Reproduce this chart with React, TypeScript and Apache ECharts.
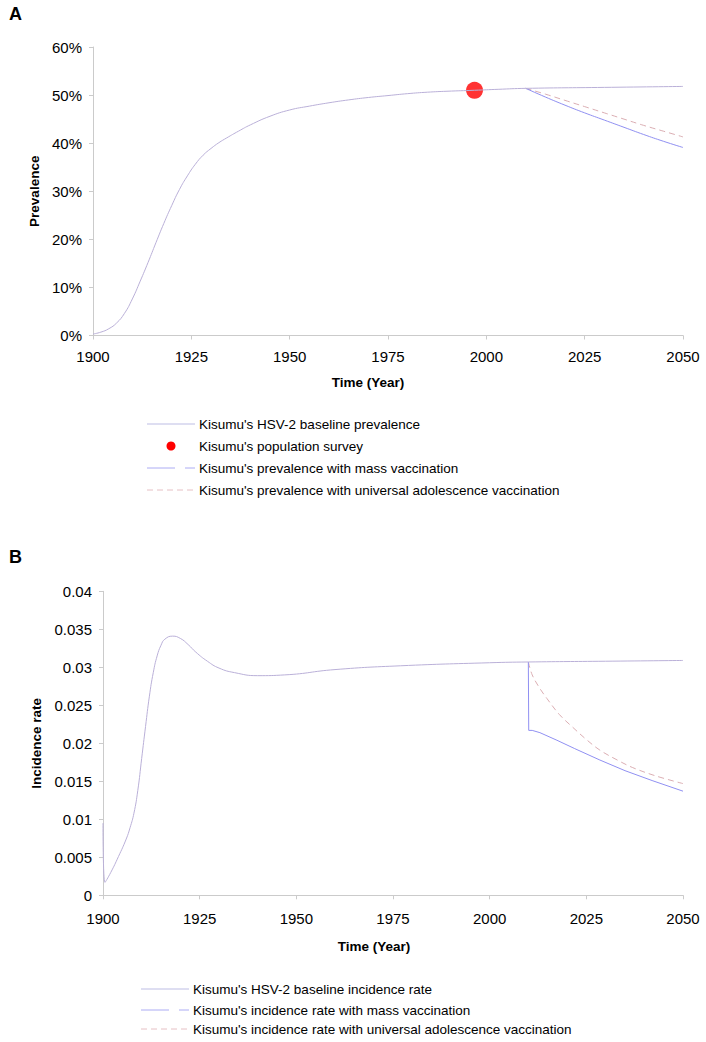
import React, { useEffect, useRef } from "react";
import * as echarts from "echarts";

// Panel A: prevalence (%)
const prevBaseYears = [1900, 1902, 1904, 1906, 1908, 1910, 1912, 1914, 1916, 1918, 1920, 1922, 1924, 1926, 1928, 1930, 1932, 1934, 1937, 1940, 1945, 1950, 1955, 1960, 1965, 1970, 1975, 1980, 1985, 1990, 1997, 2003, 2010, 2030, 2050];
const prevBaseVals = [0.3, 0.7, 1.4, 2.6, 4.6, 7.6, 11.3, 15.2, 19.3, 23.3, 27.0, 30.4, 33.2, 35.6, 37.5, 38.9, 40.1, 41.1, 42.5, 43.8, 45.6, 46.9, 47.7, 48.4, 49.0, 49.5, 49.9, 50.3, 50.6, 50.8, 51.0, 51.2, 51.4, 51.6, 51.8];
const surveyYears = [1997];
const surveyVals = [51.0];
const prevVacYears = [2010, 2015, 2020, 2025, 2030, 2035, 2040, 2045, 2050];
const prevMassVals = [51.4, 49.6, 47.9, 46.3, 44.8, 43.3, 41.8, 40.4, 39.1];
const prevAdolVals = [51.4, 50.2, 48.9, 47.6, 46.3, 45.0, 43.7, 42.5, 41.3];

// Panel B: incidence rate
const incBaseYears = [1900, 1900.5, 1902, 1904, 1906, 1907, 1908, 1909, 1910, 1911, 1912, 1913, 1914, 1915, 1916, 1918, 1920, 1922, 1924, 1927, 1930, 1934, 1940, 1947, 1960, 1977, 2000, 2010, 2030, 2050];
const incBaseVals = [0.0095, 0.0017, 0.003, 0.0051, 0.0074, 0.0089, 0.0108, 0.0138, 0.018, 0.0222, 0.0262, 0.0293, 0.0315, 0.0329, 0.0337, 0.0341, 0.0338, 0.033, 0.032, 0.0308, 0.0299, 0.0293, 0.0289, 0.029, 0.0297, 0.0302, 0.0306, 0.0307, 0.0308, 0.0309];
const incMassYears = [2010, 2010.1, 2011, 2013, 2017.4, 2022, 2028.5, 2035, 2042, 2050];
const incMassVals = [0.0307, 0.0217, 0.0217, 0.0214, 0.0204, 0.0193, 0.0178, 0.0164, 0.0151, 0.0137];
const incAdolYears = [2010, 2011, 2013, 2014.8, 2018, 2021.5, 2025, 2028.5, 2033, 2037, 2043, 2050];
const incAdolVals = [0.0307, 0.029, 0.0272, 0.0259, 0.0238, 0.0221, 0.0205, 0.0191, 0.0178, 0.0168, 0.0157, 0.0147];

const legendA = [
  "Kisumu's HSV-2 baseline prevalence",
  "Kisumu's population survey",
  "Kisumu's prevalence with mass vaccination",
  "Kisumu's prevalence with universal adolescence vaccination",
];
const legendB = [
  "Kisumu's HSV-2 baseline incidence rate",
  "Kisumu's incidence rate with mass vaccination",
  "Kisumu's incidence rate with universal adolescence vaccination",
];

const zip = (xs: number[], ys: number[]) => xs.map((x, i) => [x, ys[i]]);

const FONT = "Liberation Sans, Arial, sans-serif";
const BASE_C = "#bab0d8";
const MASS_C = "#9090f2";
const ADOL_C = "#dbaeb3";
const AXIS_C = "#cbcbcb";

export default function App() {
  const ref = useRef<HTMLDivElement>(null);
  useEffect(() => {
    const chart = echarts.init(ref.current!, null, { renderer: "svg" });
    const xAxisCommon = {
      type: "value",
      min: 1900,
      max: 2050,
      interval: 25,
      axisLine: { lineStyle: { color: AXIS_C } },
      axisTick: { lineStyle: { color: AXIS_C }, length: 4 },
      splitLine: { show: false },
      name: "Time (Year)",
      nameLocation: "middle",
    };
    const yAxisCommon = {
      type: "value",
      axisLine: { show: true, lineStyle: { color: AXIS_C } },
      axisTick: { show: true, lineStyle: { color: AXIS_C }, length: 4 },
      splitLine: { show: false },
      nameLocation: "middle",
      nameTextStyle: { fontWeight: "bold", fontSize: 13.5, fontFamily: FONT, color: "#000" },
    };
    const lineBase = (extra: any) => ({
      type: "line",
      showSymbol: false,
      symbol: "none",
      smooth: 0.5,
      silent: true,
      ...extra,
    });
    const yearFmt = (v: number) => String(v);

    const legendGraphics: any[] = [];
    const legRowsA = [424, 446, 468, 490];
    legendA.forEach((t, i) => {
      const y = legRowsA[i];
      if (i === 0) legendGraphics.push({ type: "line", shape: { x1: 147, y1: y, x2: 195, y2: y }, style: { stroke: "#bdbde4", lineWidth: 1 } });
      if (i === 1) legendGraphics.push({ type: "circle", shape: { cx: 171, cy: y, r: 4.5 }, style: { fill: "#ff0000" } });
      if (i === 2) legendGraphics.push({ type: "line", shape: { x1: 147, y1: y, x2: 195, y2: y }, style: { stroke: "#acacf4", lineWidth: 1, lineDash: [28, 10] } });
      if (i === 3) legendGraphics.push({ type: "line", shape: { x1: 147, y1: y, x2: 195, y2: y }, style: { stroke: "#e6c0c4", lineWidth: 1, lineDash: [6, 4] } });
      legendGraphics.push({ type: "text", x: 199, y, style: { text: t, fontSize: 13.5, fontFamily: FONT, fill: "#000", verticalAlign: "middle" } });
    });
    const legRowsB = [989, 1010, 1029];
    legendB.forEach((t, i) => {
      const y = legRowsB[i];
      if (i === 0) legendGraphics.push({ type: "line", shape: { x1: 141, y1: y, x2: 189, y2: y }, style: { stroke: "#bdbde4", lineWidth: 1 } });
      if (i === 1) legendGraphics.push({ type: "line", shape: { x1: 141, y1: y, x2: 189, y2: y }, style: { stroke: "#acacf4", lineWidth: 1, lineDash: [28, 10] } });
      if (i === 2) legendGraphics.push({ type: "line", shape: { x1: 141, y1: y, x2: 189, y2: y }, style: { stroke: "#e6c0c4", lineWidth: 1, lineDash: [6, 4] } });
      legendGraphics.push({ type: "text", x: 193, y, style: { text: t, fontSize: 13.5, fontFamily: FONT, fill: "#000", verticalAlign: "middle" } });
    });

    chart.setOption({
      animation: false,
      backgroundColor: "#fff",
      textStyle: { fontFamily: FONT },
      grid: [
        { left: 93, top: 47, width: 590, height: 288.5 },
        { left: 103, top: 591.3, width: 580, height: 304 },
      ],
      xAxis: [
        {
          ...xAxisCommon,
          gridIndex: 0,
          nameGap: 40,
          axisLabel: { color: "#000", fontSize: 15, fontFamily: FONT, margin: 13, formatter: yearFmt },
          nameTextStyle: { fontWeight: "bold", fontSize: 13.5, fontFamily: FONT, color: "#000", padding: [0, 40, 0, 0] },
        },
        {
          ...xAxisCommon,
          gridIndex: 1,
          nameGap: 44,
          axisLabel: { color: "#000", fontSize: 15, fontFamily: FONT, margin: 16, formatter: yearFmt },
          nameTextStyle: { fontWeight: "bold", fontSize: 13.5, fontFamily: FONT, color: "#000", padding: [0, 38, 0, 0] },
        },
      ],
      yAxis: [
        {
          ...yAxisCommon,
          gridIndex: 0,
          min: 0,
          max: 60,
          interval: 10,
          name: "Prevalence",
          nameGap: 52,
          axisLabel: { color: "#000", fontSize: 15, fontFamily: FONT, margin: 11, formatter: "{value}%" },
        },
        {
          ...yAxisCommon,
          gridIndex: 1,
          min: 0,
          max: 0.04,
          interval: 0.005,
          name: "Incidence rate",
          nameGap: 58,
          axisLabel: { color: "#000", fontSize: 15, fontFamily: FONT, margin: 11 },
        },
      ],
      graphic: [
        { type: "text", x: 9, y: 5, style: { text: "A", fontSize: 18, fontWeight: "bold", fontFamily: FONT, fill: "#000" } },
        { type: "text", x: 9, y: 548, style: { text: "B", fontSize: 18, fontWeight: "bold", fontFamily: FONT, fill: "#000" } },
        ...legendGraphics,
      ],
      series: [
        lineBase({ name: legendA[3], xAxisIndex: 0, yAxisIndex: 0, data: zip(prevVacYears, prevAdolVals), lineStyle: { color: ADOL_C, width: 1, type: [6, 4] } }),
        lineBase({ name: legendA[2], xAxisIndex: 0, yAxisIndex: 0, data: zip(prevVacYears, prevMassVals), lineStyle: { color: MASS_C, width: 1 } }),
        lineBase({ name: legendA[0], xAxisIndex: 0, yAxisIndex: 0, data: zip(prevBaseYears, prevBaseVals), lineStyle: { color: BASE_C, width: 1 } }),
        {
          type: "scatter",
          name: legendA[1],
          xAxisIndex: 0,
          yAxisIndex: 0,
          symbolSize: 17,
          itemStyle: { color: "#ff0000" },
          data: zip(surveyYears, surveyVals),
          silent: true,
        },
        lineBase({ name: legendB[2], xAxisIndex: 1, yAxisIndex: 1, smooth: 0.35, data: zip(incAdolYears, incAdolVals), lineStyle: { color: ADOL_C, width: 1, type: [6, 4] } }),
        lineBase({ name: legendB[1], xAxisIndex: 1, yAxisIndex: 1, smooth: false, data: zip(incMassYears, incMassVals), lineStyle: { color: MASS_C, width: 1 } }),
        lineBase({ name: legendB[0], xAxisIndex: 1, yAxisIndex: 1, data: zip(incBaseYears, incBaseVals), lineStyle: { color: BASE_C, width: 1 } }),
      ],
    });
    return () => chart.dispose();
  }, []);
  return (
    <div
      ref={ref}
      style={{ position: "fixed", left: 0, top: 0, width: 706, height: 1042, background: "#fff" }}
    />
  );
}
